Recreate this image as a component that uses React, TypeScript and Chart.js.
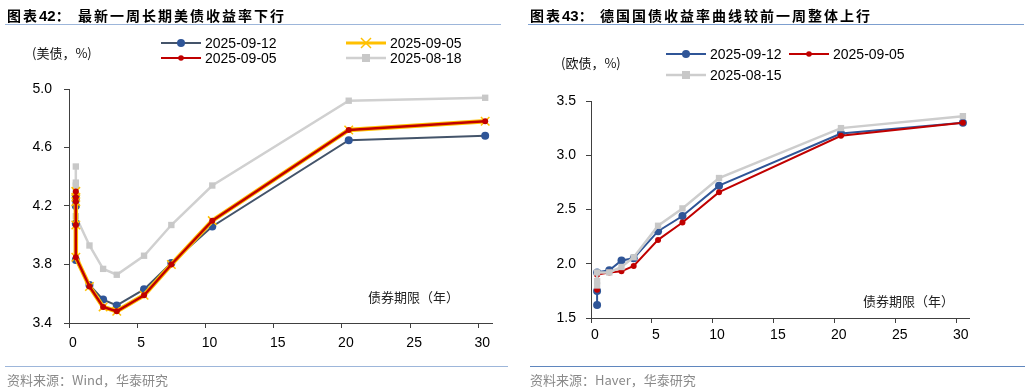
import React, { useEffect, useRef } from "react";
import { Chart, registerables } from "chart.js";
Chart.register(...registerables);

// ---------- data ----------
const xTicks = [0, 5, 10, 15, 20, 25, 30];

// US Treasury curve (maturity axis as plotted)
const usTenors = [0.5, 0.5, 0.5, 0.5, 0.5, 1.5, 2.5, 3.5, 5.5, 7.5, 10.5, 20.5, 30.5];
const us0912 = [4.27, 4.24, 4.2, 4.08, 3.83, 3.66, 3.56, 3.52, 3.63, 3.81, 4.06, 4.65, 4.68];
const us0905 = [4.3, 4.26, 4.23, 4.07, 3.85, 3.65, 3.51, 3.48, 3.59, 3.8, 4.1, 4.72, 4.78];
const us0818 = [4.47, 4.36, 4.34, 4.3, 4.13, 3.93, 3.77, 3.73, 3.86, 4.07, 4.34, 4.92, 4.94];
const usYTicks = [3.4, 3.8, 4.2, 4.6, 5.0];

// German Bund curve
const deTenors = [0.5, 0.5, 0.5, 1.5, 2.5, 3.5, 5.5, 7.5, 10.5, 20.5, 30.5];
const de0912 = [1.62, 1.75, 1.92, 1.94, 2.03, 2.05, 2.3, 2.44, 2.72, 3.2, 3.3];
const de0905 = [1.76, 1.9, 1.9, 1.92, 1.93, 1.98, 2.22, 2.38, 2.66, 3.18, 3.3];
const de0815 = [1.8, 1.84, 1.92, 1.92, 1.97, 2.06, 2.35, 2.51, 2.79, 3.25, 3.36];
const deYTicks = [1.5, 2.0, 2.5, 3.0, 3.5];

// ---------- styles ----------
const AXIS = "#404040";
const NUM_FONT = "'Liberation Sans', Arial, sans-serif";
const CJK_FONT = "'Noto Sans CJK SC', 'Noto Sans', sans-serif";
const BLUE = "#2F5597";
const SLATE = "#44546A";
const RED = "#C00000";
const YELLOW = "#FFC000";
const GRAY = "#D0D0D0";

const pts = (xs: number[], ys: number[]) => ys.map((y, i) => ({ x: xs[i], y }));

type ChartProps = {
  left: number;
  width: number;
  height: number;
  datasets: any[];
  yTicks: number[];
  padding: { left: number; right: number; top: number; bottom: number };
  yPad: number;
  xPad: number;
  labelOffset: number;
};

function LineChart(p: ChartProps) {
  const ref = useRef<HTMLCanvasElement | null>(null);
  useEffect(() => {
    if (!ref.current) return;
    const chart = new Chart(ref.current, {
      type: "line",
      data: { datasets: p.datasets },
      options: {
        responsive: false,
        maintainAspectRatio: false,
        animation: false,
        layout: { padding: p.padding },
        plugins: { legend: { display: false }, tooltip: { enabled: false } },
        elements: { line: { tension: 0 } },
        scales: {
          x: {
            type: "linear",
            min: 0,
            max: 31,
            afterBuildTicks: (ax: any) => {
              ax.ticks = xTicks.map((v) => ({ value: v }));
            },
            afterFit: (ax: any) => {
              ax.height = 30;
            },
            grid: { display: true, drawOnChartArea: false, drawTicks: true, tickLength: 5, color: AXIS },
            border: { display: true, color: AXIS, width: 1 },
            ticks: {
              color: "#000",
              font: { family: NUM_FONT, size: 14 },
              padding: p.xPad,
              labelOffset: p.labelOffset,
              maxRotation: 0,
              autoSkip: false,
              callback: (v: any) => String(v),
            },
          },
          y: {
            type: "linear",
            min: p.yTicks[0],
            max: p.yTicks[p.yTicks.length - 1],
            afterBuildTicks: (ax: any) => {
              ax.ticks = p.yTicks.map((v) => ({ value: v }));
            },
            afterFit: (ax: any) => {
              ax.width = 40;
            },
            grid: { display: true, drawOnChartArea: false, drawTicks: true, tickLength: 5, color: AXIS },
            border: { display: true, color: AXIS, width: 1 },
            ticks: {
              color: "#000",
              font: { family: NUM_FONT, size: 14 },
              padding: p.yPad,
              autoSkip: false,
              callback: (v: any) => Number(v).toFixed(1),
            },
          },
        },
      } as any,
    });
    return () => chart.destroy();
  }, []);
  return (
    <canvas
      ref={ref}
      width={p.width}
      height={p.height}
      style={{ position: "absolute", left: p.left, top: 0, width: p.width, height: p.height }}
    />
  );
}

function Marker({ kind, color }: { kind: string; color: string }) {
  if (kind === "circle") return <circle cx={20} cy={7} r={4} fill={color} />;
  if (kind === "dot") return <circle cx={20} cy={7} r={2.8} fill={color} />;
  if (kind === "square") return <rect x={16} y={3} width={8} height={8} fill="#C8C8C8" />;
  if (kind === "cross")
    return (
      <g stroke={color} strokeWidth={1.5}>
        <line x1={15} y1={2} x2={25} y2={12} />
        <line x1={25} y1={2} x2={15} y2={12} />
      </g>
    );
  return null;
}

function LegendItem(props: { x: number; y: number; color: string; lw: number; marker: string; label: string; mcolor?: string }) {
  return (
    <div style={{ position: "absolute", left: props.x, top: props.y - 8, height: 16, display: "flex", alignItems: "center" }}>
      <svg width={40} height={14} style={{ display: "block" }}>
        <line x1={0} y1={7} x2={40} y2={7} stroke={props.color} strokeWidth={props.lw} />
        <Marker kind={props.marker} color={props.mcolor || props.color} />
      </svg>
      <span style={{ marginLeft: 4, font: `14px ${NUM_FONT}`, color: "#000", lineHeight: "16px", whiteSpace: "nowrap" }}>
        {props.label}
      </span>
    </div>
  );
}

const abs = (x: number, y: number, extra: any = {}) => ({ position: "absolute" as const, left: x, top: y, whiteSpace: "nowrap" as const, ...extra });

export default function App() {
  const usSets = [
    { label: "2025-08-18", data: pts(usTenors, us0818), borderColor: GRAY, borderWidth: 2.5, pointStyle: "rect", pointRadius: 4.5, pointBackgroundColor: "#C8C8C8", pointBorderColor: "#C8C8C8", pointBorderWidth: 0, order: 4 },
    { label: "2025-09-12", data: pts(usTenors, us0912), borderColor: SLATE, borderWidth: 2, pointStyle: "circle", pointRadius: 4, pointBackgroundColor: BLUE, pointBorderColor: BLUE, pointBorderWidth: 0, order: 3 },
    { label: "2025-09-05", data: pts(usTenors, us0905), borderColor: YELLOW, borderWidth: 4.5, pointStyle: "crossRot", pointRadius: 6, pointBorderColor: YELLOW, pointBorderWidth: 1.5, order: 2 },
    { label: "2025-09-05", data: pts(usTenors, us0905), borderColor: RED, borderWidth: 2.5, pointStyle: "circle", pointRadius: 3, pointBackgroundColor: RED, pointBorderColor: RED, pointBorderWidth: 0, order: 1 },
  ];
  const deSets = [
    { label: "2025-09-12", data: pts(deTenors, de0912), borderColor: BLUE, borderWidth: 2, pointStyle: "circle", pointRadius: 4, pointBackgroundColor: BLUE, pointBorderColor: BLUE, pointBorderWidth: 0, order: 3 },
    { label: "2025-09-05", data: pts(deTenors, de0905), borderColor: RED, borderWidth: 2, pointStyle: "circle", pointRadius: 3, pointBackgroundColor: RED, pointBorderColor: RED, pointBorderWidth: 0, order: 2 },
    { label: "2025-08-15", data: pts(deTenors, de0815), borderColor: "#CDCDCD", borderWidth: 2.5, pointStyle: "rect", pointRadius: 4.5, pointBackgroundColor: "#C8C8C8", pointBorderColor: "#C8C8C8", pointBorderWidth: 0, order: 1 },
  ];

  const titleStyle = { font: `bold 14px ${CJK_FONT}`, letterSpacing: "2px", color: "#000", lineHeight: "16px" };
  const numBold = { font: `bold 15px ${NUM_FONT}`, letterSpacing: "0px" };
  const srcStyle = { font: `13px ${CJK_FONT}`, color: "#8A8A8A", lineHeight: "16px" };
  const unitStyle = { font: `13px ${CJK_FONT}`, color: "#111", lineHeight: "16px" };
  const axisTitle = { font: `13px ${CJK_FONT}`, color: "#222", lineHeight: "16px" };

  return (
    <div style={{ position: "fixed", left: 0, top: 0, width: 1029, height: 392, background: "#fff", overflow: "hidden" }}>
      <LineChart
        left={0}
        width={515}
        height={392}
        datasets={usSets}
        yTicks={usYTicks}
        padding={{ left: 29, right: 23, top: 89, bottom: 39 }}
        yPad={12}
        xPad={7}
        labelOffset={4}
      />
      <LineChart
        left={515}
        width={514}
        height={392}
        datasets={deSets}
        yTicks={deYTicks}
        padding={{ left: 36, right: 60, top: 101, bottom: 44 }}
        yPad={10}
        xPad={4}
        labelOffset={4}
      />

      {/* titles */}
      <div style={abs(7, 7, titleStyle)}>
        图表<span style={numBold}>42</span>：
      </div>
      <div style={abs(78, 7, titleStyle)}>最新一周长期美债收益率下行</div>
      <div style={abs(530, 7, titleStyle)}>
        图表<span style={numBold}>43</span>：
      </div>
      <div style={abs(600, 7, titleStyle)}>德国国债收益率曲线较前一周整体上行</div>
      <div style={abs(5, 24, { width: 496, height: 1, background: "#9DB6DA" })} />
      <div style={abs(528, 24, { width: 496, height: 1, background: "#7D9FCF" })} />

      {/* unit labels */}
      <div style={abs(32, 45, unitStyle)}>(美债，%)</div>
      <div style={abs(561, 55, unitStyle)}>(欧债，%)</div>

      {/* legends */}
      <LegendItem x={161} y={43} color={SLATE} mcolor={BLUE} lw={2} marker="circle" label="2025-09-12" />
      <LegendItem x={346} y={43} color={YELLOW} lw={3} marker="cross" label="2025-09-05" />
      <LegendItem x={161} y={58} color={RED} lw={2} marker="dot" label="2025-09-05" />
      <LegendItem x={346} y={58} color={GRAY} lw={2.5} marker="square" label="2025-08-18" />

      <LegendItem x={666} y={54} color={BLUE} lw={2} marker="circle" label="2025-09-12" />
      <LegendItem x={789} y={54} color={RED} lw={2} marker="dot" label="2025-09-05" />
      <LegendItem x={666} y={75} color="#CDCDCD" lw={2.5} marker="square" label="2025-08-15" />

      {/* axis titles */}
      <div style={abs(368, 289, axisTitle)}>债券期限（年）</div>
      <div style={abs(863, 293, axisTitle)}>债券期限（年）</div>

      {/* footer */}
      <div style={abs(5, 366, { width: 503, height: 1, background: "#9DB6DA" })} />
      <div style={abs(530, 366, { width: 495, height: 1, background: "#5F86BE" })} />
      <div style={abs(7, 372, srcStyle)}>资料来源：Wind，华泰研究</div>
      <div style={abs(530, 372, srcStyle)}>资料来源：Haver，华泰研究</div>
    </div>
  );
}
